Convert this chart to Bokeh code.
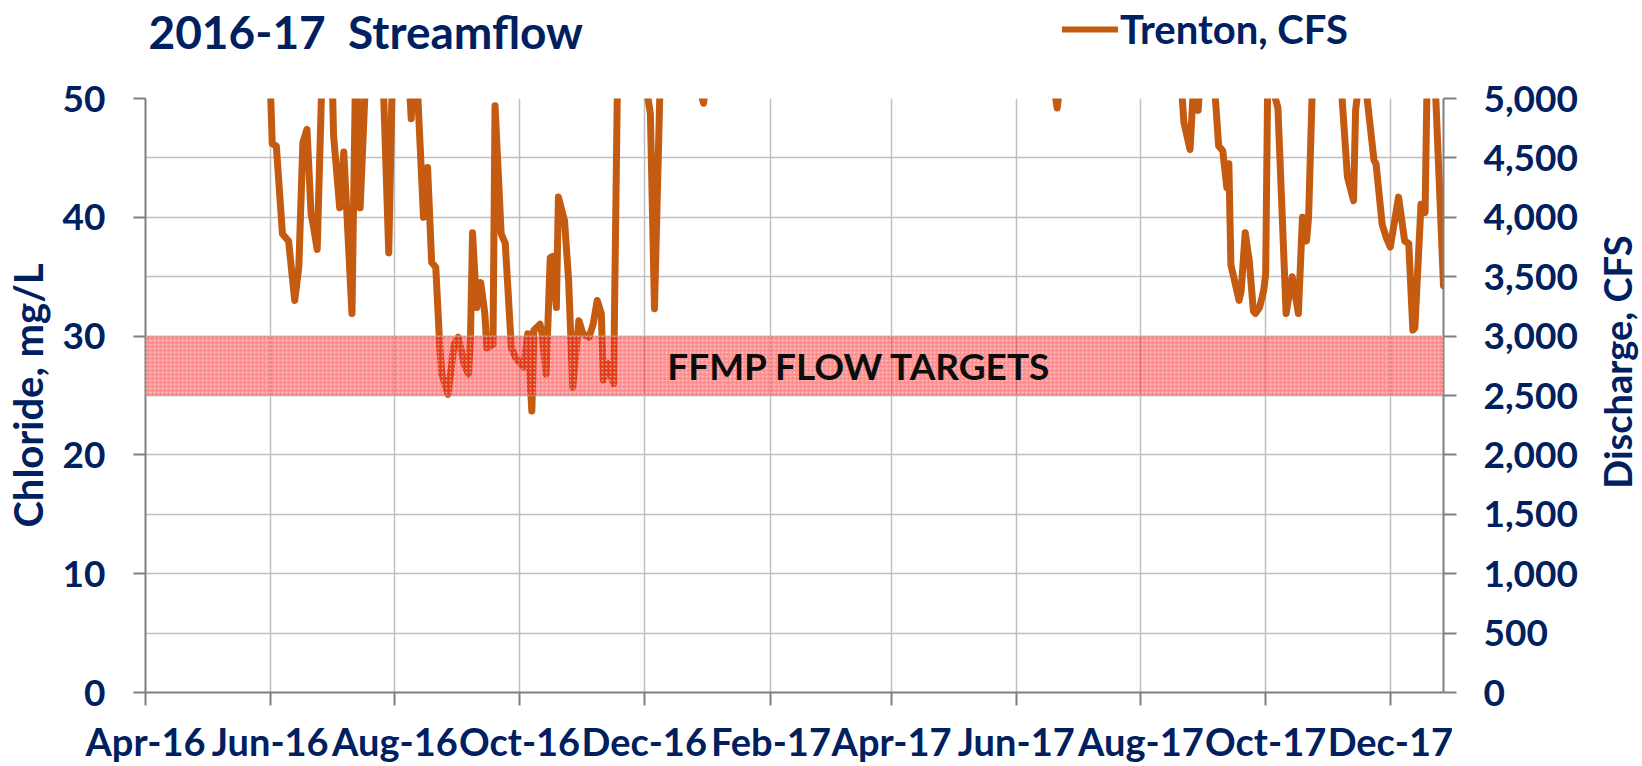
import math
import pandas as pd
from bokeh.plotting import figure
from bokeh.layouts import column, row
from bokeh.models import (Range1d, LinearAxis, FixedTicker, DatetimeTickFormatter,
                          NumeralTickFormatter, BoxAnnotation, Label, Legend, LegendItem)
from bokeh.embed import file_html
from bokeh.resources import INLINE

# ---------------- data ----------------
flow_dates = [
    "2016-05-31", "2016-06-01", "2016-06-02", "2016-06-04", "2016-06-07", "2016-06-10",
    "2016-06-13", "2016-06-15", "2016-06-17", "2016-06-19", "2016-06-21", "2016-06-22",
    "2016-06-24", "2016-06-27", "2016-06-29", "2016-07-02", "2016-07-05", "2016-07-07",
    "2016-07-11", "2016-07-13", "2016-07-15", "2016-07-18", "2016-07-22", "2016-07-26",
    "2016-07-29", "2016-07-31", "2016-08-04", "2016-08-08", "2016-08-09", "2016-08-10",
    "2016-08-12", "2016-08-15", "2016-08-17", "2016-08-19", "2016-08-21", "2016-08-23",
    "2016-08-24", "2016-08-27", "2016-08-30", "2016-09-01", "2016-09-04", "2016-09-06",
    "2016-09-07", "2016-09-08", "2016-09-10", "2016-09-12", "2016-09-14", "2016-09-15",
    "2016-09-18", "2016-09-19", "2016-09-22", "2016-09-24", "2016-09-27", "2016-09-29",
    "2016-10-03", "2016-10-05", "2016-10-07", "2016-10-08", "2016-10-11", "2016-10-12",
    "2016-10-14", "2016-10-16", "2016-10-17", "2016-10-19", "2016-10-20", "2016-10-23",
    "2016-10-25", "2016-10-27", "2016-10-30", "2016-11-01", "2016-11-04", "2016-11-06",
    "2016-11-08", "2016-11-10", "2016-11-11", "2016-11-13", "2016-11-16", "2016-11-18",
    "2016-11-23", "2016-11-28", "2016-12-02", "2016-12-04", "2016-12-06", "2016-12-09",
    "2016-12-15", "2016-12-22", "2016-12-28", "2016-12-30", "2017-01-01", "2017-01-15",
    "2017-02-10", "2017-03-10", "2017-04-10", "2017-05-10", "2017-06-05", "2017-06-19",
    "2017-06-21", "2017-06-23", "2017-07-10", "2017-08-01", "2017-08-15", "2017-08-20",
    "2017-08-22", "2017-08-25", "2017-08-27", "2017-08-29", "2017-08-30", "2017-09-03",
    "2017-09-06", "2017-09-08", "2017-09-10", "2017-09-12", "2017-09-13", "2017-09-14",
    "2017-09-18", "2017-09-19", "2017-09-21", "2017-09-23", "2017-09-25", "2017-09-26",
    "2017-09-28", "2017-09-30", "2017-10-01", "2017-10-02", "2017-10-05", "2017-10-07",
    "2017-10-11", "2017-10-14", "2017-10-17", "2017-10-19", "2017-10-21", "2017-10-22",
    "2017-10-24", "2017-10-31", "2017-11-07", "2017-11-10", "2017-11-13", "2017-11-14",
    "2017-11-16", "2017-11-19", "2017-11-23", "2017-11-24", "2017-11-27", "2017-11-29",
    "2017-12-01", "2017-12-05", "2017-12-08", "2017-12-10", "2017-12-12", "2017-12-13",
    "2017-12-16", "2017-12-18", "2017-12-19", "2017-12-22", "2017-12-23", "2017-12-27",
]
flow_cfs = [
    5600, 5150, 4620, 4600, 3860, 3800,
    3300, 3580, 4630, 4740, 4030, 3940,
    3730, 5600, 7000, 4690, 4080, 4550,
    3190, 5500, 4080, 5300, 8000, 5300,
    3700, 5400, 7500, 5150, 4830, 5200,
    5100, 4000, 4420, 3620, 3580, 2900,
    2680, 2510, 2930, 2990, 2760, 2680,
    2990, 3870, 3240, 3450, 3190, 2900,
    2930, 4940, 3860, 3780, 2900, 2820,
    2740, 3020, 2370, 3050, 3100, 3020,
    2680, 3660, 3670, 3240, 4170, 3970,
    3470, 2570, 3130, 3020, 2990, 3100,
    3300, 3190, 2630, 2770, 2600, 5300,
    8500, 7000, 5100, 4870, 3230, 5300,
    7000, 6000, 5100, 4960, 5200, 8000,
    9000, 12000, 10000, 9000, 6500, 5150,
    4920, 5200, 7500, 6500, 5600, 5300,
    4800, 4570, 5200, 4900, 5200, 6000,
    5100, 4600, 4560, 4250, 4450, 3600,
    3300, 3380, 3870, 3630, 3210, 3190,
    3240, 3380, 3520, 5150, 5050, 4920,
    3190, 3500, 3190, 4000, 3800, 4000,
    5200, 6500, 5100, 4340, 4140, 4900,
    5200, 5100, 4480, 4450, 3940, 3830,
    3750, 4170, 3800, 3780, 3050, 3070,
    4110, 4040, 5200, 6000, 5100, 3425,
]
month_ticks = ["2016-04-01", "2016-06-01", "2016-08-01", "2016-10-01", "2016-12-01",
               "2017-02-01", "2017-04-01", "2017-06-01", "2017-08-01", "2017-10-01",
               "2017-12-01"]
discharge_ticks = [0, 500, 1000, 1500, 2000, 2500, 3000, 3500, 4000, 4500, 5000]
chloride_ticks = [0, 10, 20, 30, 40, 50]
target_low = 2500
target_high = 3000
x_start = "2016-04-01"
x_end = "2017-12-27"

# ---------------- styling ----------------
NAVY = "#002060"
GRID = "#bfbfbf"
AXIS = "#7f7f7f"
LINE = "#C55A11"
FONT = "Lato"
MAIN_W = 1595
SIDE_W = 1642 - MAIN_W
HEADER_H = 70
MAIN_H = 766 - HEADER_H

x = pd.to_datetime(flow_dates)
tick_ms = [pd.Timestamp(d).value / 1e6 for d in month_ticks]


def bare(width, height):
    f = figure(width=width, height=height, x_axis_location=None, y_axis_location=None,
               x_range=Range1d(0, 1), y_range=Range1d(0, 1),
               output_backend="svg", toolbar_location=None,
               min_border_left=0, min_border_right=0, min_border_top=0, min_border_bottom=0)
    f.outline_line_color = None
    f.xgrid.visible = False
    f.ygrid.visible = False
    ok = True
    try:
        f.frame_align = False
    except Exception:
        ok = False
    return f, ok


# ---------------- header: title + legend ----------------
header, hdr_free = bare(MAIN_W, HEADER_H)
hdr_dx = 0 if hdr_free else 144
header.add_layout(Label(x=148 - hdr_dx, y=HEADER_H - 46.7 + 15.3, x_units="screen", y_units="screen",
                        text="2016-17\u00a0 Streamflow", text_align="left",
                        text_baseline="alphabetic", text_font=FONT,
                        text_font_style="bold", text_font_size="46px", text_color=NAVY))
# legend swatch: the same series drawn outside this strip's ranges (invisible here)
swatch = header.line(x, flow_cfs, line_color=LINE, line_width=6, line_cap="round")
legend = Legend(items=[LegendItem(label="Trenton, CFS", renderers=[swatch])],
                location=(1062 - hdr_dx, HEADER_H - 29.3 - 25), orientation="horizontal",
                glyph_width=56, glyph_height=50, label_height=50, label_standoff=2,
                padding=0, spacing=0, margin=0,
                border_line_color=None, background_fill_alpha=0,
                label_text_font=FONT, label_text_font_style="bold",
                label_text_font_size="40px", label_text_color=NAVY)
header.add_layout(legend)

# ---------------- side strip: right axis title ----------------
side, side_free = bare(SIDE_W, 766)
side_y = (766 - 361.5) if side_free else (692 - 361.5)
side.add_layout(Label(x=1616 - MAIN_W, y=side_y, x_units="screen", y_units="screen",
                      angle=math.pi / 2, text="Discharge, CFS", text_align="center",
                      text_baseline="middle", text_font=FONT, text_font_style="bold",
                      text_font_size="38px", text_color=NAVY))

# ---------------- main chart ----------------
p = figure(width=MAIN_W, height=MAIN_H, x_axis_type="datetime", y_axis_location="right",
           x_range=Range1d(pd.Timestamp(x_start), pd.Timestamp(x_end)),
           y_range=Range1d(0, 5000),
           output_backend="svg", toolbar_location=None,
           min_border_left=144, min_border_right=MAIN_W - 1443, min_border_top=28,
           min_border_bottom=74)
p.outline_line_color = None
p.background_fill_color = "white"
p.border_fill_color = "white"

right_axis = p.right[0]
right_axis.ticker = FixedTicker(ticks=discharge_ticks)
right_axis.formatter = NumeralTickFormatter(format="0,0")

p.extra_y_ranges = {"cl": Range1d(0, 50)}
left_axis = LinearAxis(y_range_name="cl", ticker=FixedTicker(ticks=chloride_ticks),
                       axis_label="Chloride, mg/L")
p.add_layout(left_axis, "left")

xaxis = p.below[0]
xaxis.ticker = FixedTicker(ticks=tick_ms)
xaxis.formatter = DatetimeTickFormatter(months="%b-%y", days="%b-%y", years="%b-%y")

for ax in [xaxis, right_axis, left_axis]:
    ax.axis_line_color = AXIS
    ax.axis_line_width = 2
    ax.major_tick_line_color = AXIS
    ax.major_tick_line_width = 2
    ax.major_tick_in = 0
    ax.major_tick_out = 12
    ax.minor_tick_in = 0
    ax.minor_tick_out = 0
    ax.major_label_text_color = NAVY
    ax.major_label_text_font = FONT
    ax.major_label_text_font_style = "bold"
    ax.major_label_text_font_size = "37px"
    ax.axis_label_text_color = NAVY
    ax.axis_label_text_font = FONT
    ax.axis_label_text_font_style = "bold"
    ax.axis_label_text_font_size = "40px"

xaxis.major_tick_out = 13
xaxis.major_label_text_font_size = "38px"
xaxis.major_label_standoff = 12
right_axis.major_tick_out = 13
right_axis.major_label_standoff = 27
left_axis.major_label_standoff = 28
left_axis.axis_label_standoff = 8

p.xgrid.grid_line_color = GRID
p.xgrid.grid_line_width = 1.5
p.ygrid.grid_line_color = GRID
p.ygrid.grid_line_width = 1.5

r = p.line(x, flow_cfs, line_color=LINE, line_width=7,
           line_join="round", line_cap="round")

band = BoxAnnotation(bottom=target_low, top=target_high,
                     fill_color="#ff2020", fill_alpha=0.5,
                     hatch_pattern="dot", hatch_color="white", hatch_alpha=0.5,
                     hatch_scale=4, hatch_weight=1,
                     line_color=GRID, line_width=2)
p.add_layout(band)

p.add_layout(Label(x=714, x_units="screen", y=(target_low + target_high) / 2, y_units="data",
                   text="FFMP FLOW TARGETS", text_align="center", text_baseline="middle",
                   text_font=FONT, text_font_style="bold", text_font_size="37px",
                   text_color="#0d0d0d"))

layout = row(column(header, p, spacing=0), side, spacing=0)
open("out.html", "w").write(file_html(layout, INLINE))
